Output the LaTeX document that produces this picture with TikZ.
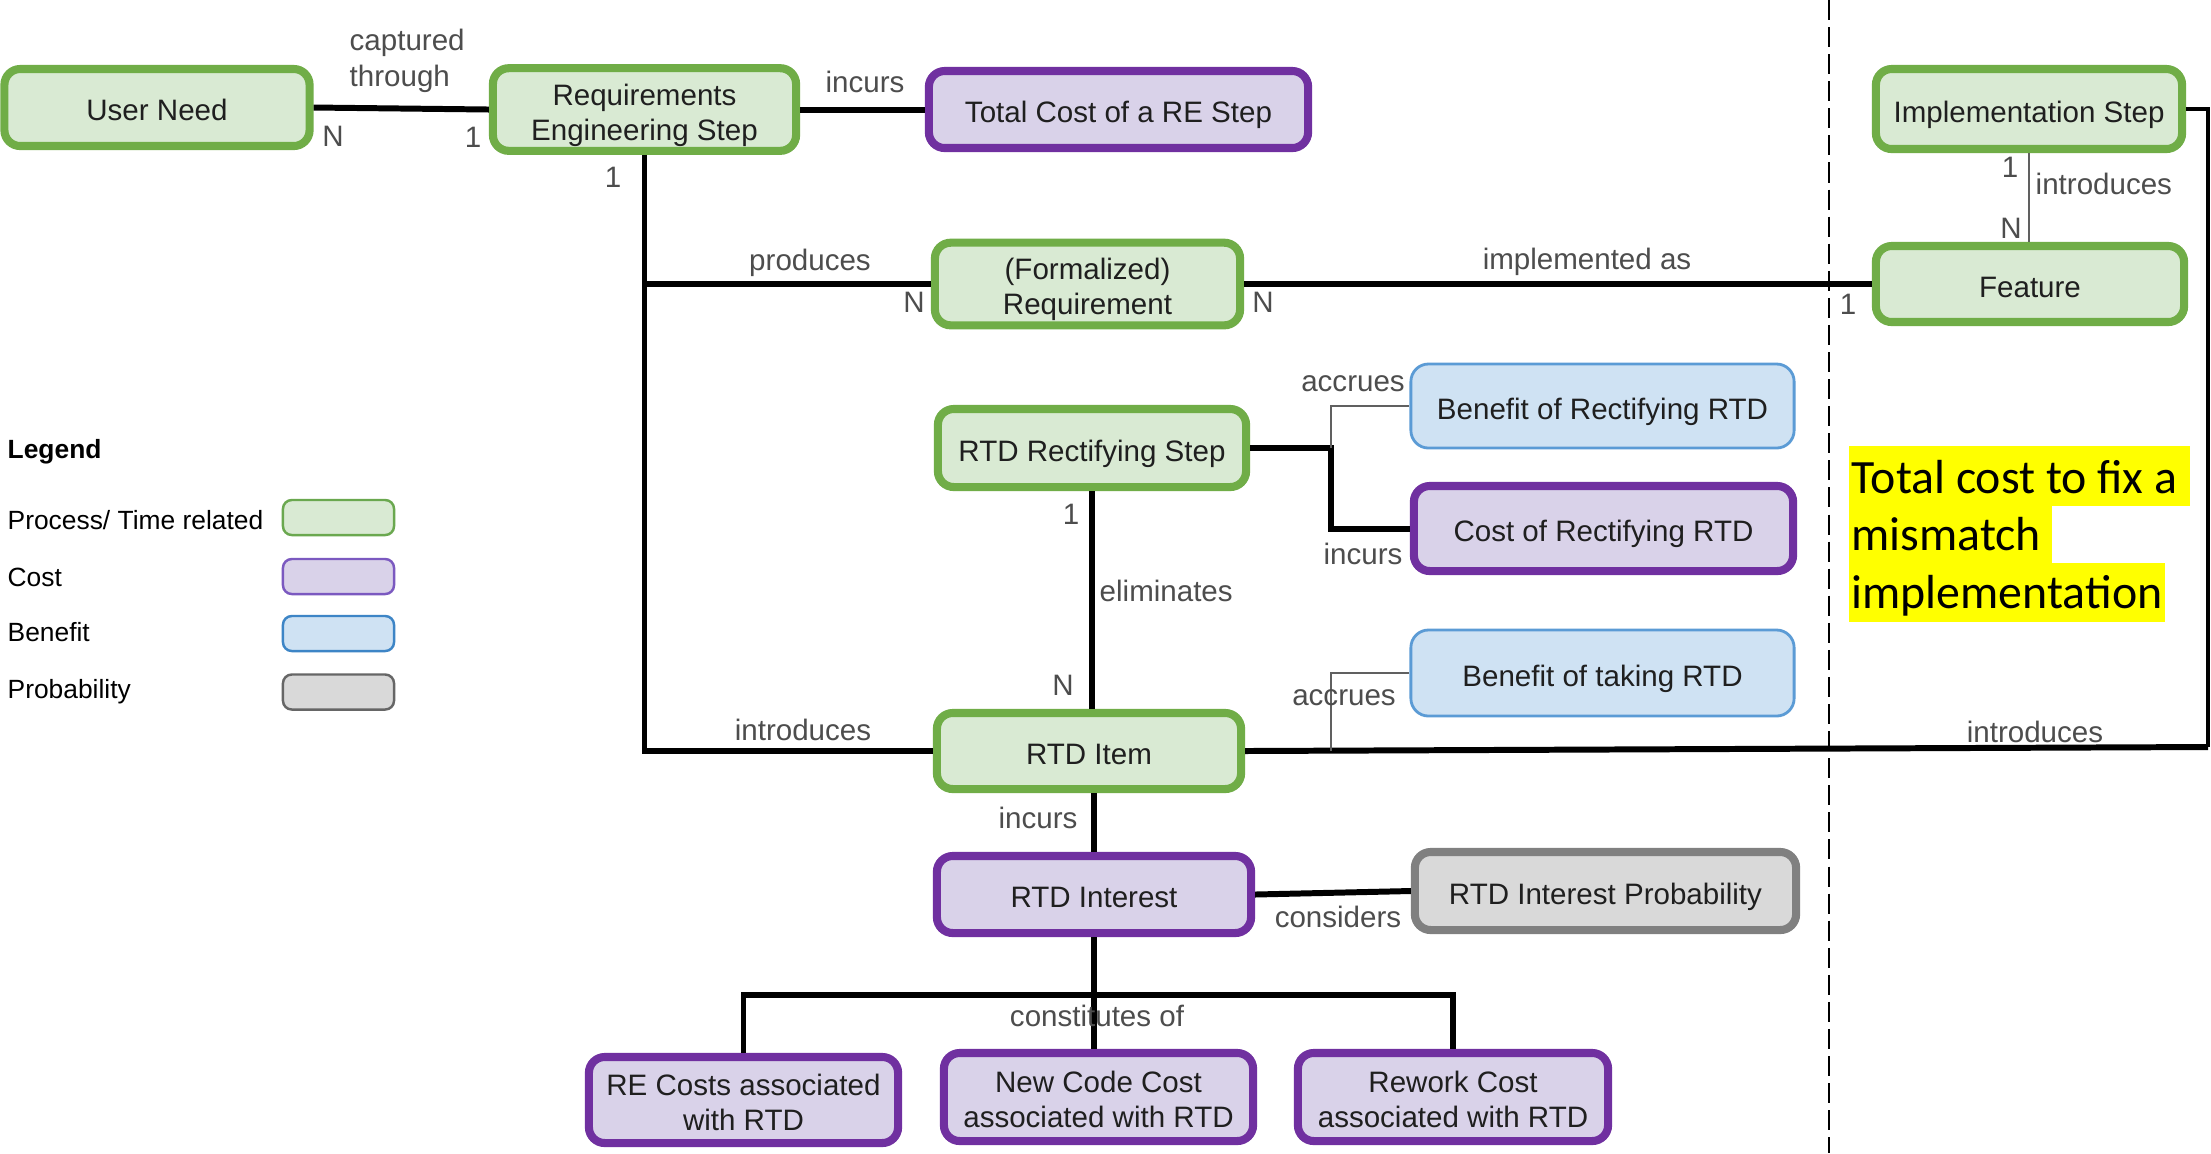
\documentclass[tikz,border=0pt]{standalone}
\usepackage{fontspec}
\setmainfont{Liberation Sans}
\newfontfamily\hilitefont{Carlito}
\usetikzlibrary{calc}

\definecolor{grnB}{HTML}{70AD47}
\definecolor{grnF}{HTML}{D9EAD3}
\definecolor{purB}{HTML}{7030A0}
\definecolor{purF}{HTML}{D9D2E9}
\definecolor{bluB}{HTML}{5B9BD5}
\definecolor{bluF}{HTML}{CFE2F3}
\definecolor{gryB}{HTML}{808080}
\definecolor{gryF}{HTML}{D9D9D9}
\definecolor{lgGrn}{HTML}{6AA84F}
\definecolor{lgPur}{HTML}{7B59C0}
\definecolor{lgBlu}{HTML}{3D85C6}
\definecolor{lgGry}{HTML}{666666}
\definecolor{txtC}{HTML}{1F1F1F}
\definecolor{lblC}{HTML}{4D4D4D}
\definecolor{hiYel}{HTML}{FFFF00}

\newcommand\bxfont{\fontsize{8.4}{10}\selectfont}
\newcommand\lbfont{\fontsize{8.4}{10}\selectfont}
\newcommand\lgfont{\fontsize{7.5}{9}\selectfont}
% box captions: strut-based rows, first row raised a little so the caption sits slightly low
\newcommand\bt[1]{\begin{tabular}{@{}c@{}}\rule{0pt}{10.5pt}#1\end{tabular}}

\tikzset{
  box/.style={rectangle, rounded corners=4.5pt, line width=2.3pt, inner sep=0pt,
    font=\bxfont, text=txtC},
  proc/.style={box, draw=grnB, fill=grnF},
  cost/.style={box, draw=purB, fill=purF},
  bene/.style={box, draw=bluB, fill=bluF, line width=0.8pt, rounded corners=5pt},
  prob/.style={box, draw=gryB, fill=gryF},
  conn/.style={draw=black, line width=1.7pt},
  midline/.style={draw=black, line width=0.9pt},
  thinline/.style={draw=gray!75!black, line width=0.5pt},
  lbl/.style={font=\lbfont, text=lblC, inner sep=0pt},
  lgtxt/.style={font=\lgfont, text=black, inner sep=0pt, anchor=west},
  swatch/.style={rectangle, rounded corners=2.5pt, line width=0.7pt, inner sep=0pt,
    minimum width=1.11cm, minimum height=0.35cm},
  hltxt/.style={font=\hilitefont\fontsize{13.6}{16}\selectfont, inner sep=0pt, anchor=base west},
}

\begin{document}
\begin{tikzpicture}[x=0.01cm, y=-0.01cm]
\useasboundingbox[fill=white] (0,0) rectangle (2211,1153);

% phase separator
\draw[black, line width=0.6pt, dash pattern=on 5.7pt off 2pt] (1829,0) -- (1829,1153);

% entities
\node[proc, minimum width=3.05cm, minimum height=0.77cm] (usr) at (157,107.5) {\bt{User Need}};
\node[proc, minimum width=3.03cm, minimum height=0.77cm] (res) at (644.5,109.5) {\bt{Requirements\\Engineering Step}};
\node[cost, minimum width=3.79cm, minimum height=0.77cm] (tcs) at (1118.5,109.5) {\bt{Total Cost of a RE Step}};
\node[proc, minimum width=3.06cm, minimum height=0.80cm] (imp) at (2029,109) {\bt{Implementation Step}};
\node[proc, minimum width=3.05cm, minimum height=0.76cm] (req) at (1087.5,284) {\bt{(Formalized)\\Requirement}};
\node[proc, minimum width=3.08cm, minimum height=0.76cm] (fea) at (2030,284) {\bt{Feature}};
\node[proc, minimum width=3.08cm, minimum height=0.78cm] (rrs) at (1092,448) {\bt{RTD Rectifying Step}};
\node[bene, minimum width=3.83cm, minimum height=0.84cm] (bor) at (1602.5,406) {\bt{Benefit of Rectifying RTD}};
\node[cost, minimum width=3.79cm, minimum height=0.85cm] (cor) at (1603.5,528.5) {\bt{Cost of Rectifying RTD}};
\node[bene, minimum width=3.83cm, minimum height=0.86cm] (bot) at (1602.5,673) {\bt{Benefit of taking RTD}};
\node[proc, minimum width=3.04cm, minimum height=0.76cm] (itm) at (1089,751) {\bt{RTD Item}};
\node[cost, minimum width=3.14cm, minimum height=0.77cm] (int) at (1094,894.5) {\bt{RTD Interest}};
\node[prob, minimum width=3.81cm, minimum height=0.78cm] (prb) at (1605.5,891) {\bt{RTD Interest Probability}};
\node[cost, minimum width=3.09cm, minimum height=0.86cm] (rec) at (743.5,1100) {\bt{RE Costs associated\\with RTD}};
\node[cost, minimum width=3.09cm, minimum height=0.88cm] (ncc) at (1098.5,1097) {\bt{New Code Cost\\associated with RTD}};
\node[cost, minimum width=3.10cm, minimum height=0.88cm] (rwc) at (1453,1097) {\bt{Rework Cost\\associated with RTD}};

% junction points
\coordinate (rturn) at (2208,109);
\coordinate (rdown) at (2208,747);
\coordinate (rfork) at (1331,448);
\coordinate (bfork) at (1331,750.5);
\coordinate (bus) at (1093,995);

% connectors
\draw[conn] (usr.east) -- (res.west);
\draw[conn] (res.east) -- (tcs.west);
\draw[conn] (res.south) |- (itm.west);
\draw[conn] (res.south |- req.west) -- (req.west);
\draw[conn] (req.east) -- (fea.west);
\draw[thinline] (imp.south) -- (imp.south |- fea.north);
\draw[midline] (imp.east) -- (rturn) -- (rdown);
\draw[conn] (rdown) -- (itm.east);
\draw[conn, line join=miter] (rrs.east) -- (rfork) |- (cor.west);
\draw[thinline] (rfork) |- (bor.west);
\draw[conn] (rrs.south) -- (rrs.south |- itm.north);
\draw[thinline] (bfork) |- (bot.west);
\draw[conn] (int.north |- itm.south) -- (int.north);
\draw[conn] (int.east) -- (prb.west);
\draw[conn] (int.south) -- (int.south |- bus);
\draw[conn, line cap=rect] (rec.north |- bus) -- (rwc.north |- bus);
\draw[conn] (rec.north |- bus) -- (rec.north);
\draw[conn] (int.south |- bus) -- (int.south |- ncc.north);
\draw[conn] (rwc.north |- bus) -- (rwc.north);

% relation labels and cardinalities
\node[lbl, anchor=west] (l1a) at (349,42.5) {captured};
\node[lbl, anchor=west] (l1b) at (349,78.5) {through};
\node[lbl] (c1) at (333,136) {N};
\node[lbl] (c2) at (473,137) {1};
\node[lbl] (l2) at (865,82) {incurs};
\node[lbl] (c3) at (613,177) {1};
\node[lbl] (l3) at (810,262.5) {produces};
\node[lbl] (c4) at (914,302) {N};
\node[lbl] (l4) at (1587,262) {implemented as};
\node[lbl] (c5) at (1263,302) {N};
\node[lbl] (c6) at (1848,304) {1};
\node[lbl] (c7) at (2010,167) {1};
\node[lbl] (c8) at (2011,228) {N};
\node[lbl, anchor=west] (l5) at (2035,184) {introduces};
\node[lbl] (l6) at (1353,383.5) {accrues};
\node[lbl] (l7) at (1363,554) {incurs};
\node[lbl] (c9) at (1071,514) {1};
\node[lbl, anchor=west] (l8) at (1099,591) {eliminates};
\node[lbl] (c10) at (1063,685) {N};
\node[lbl] (l9) at (1344,698) {accrues};
\node[lbl] (l10) at (803,730) {introduces};
\node[lbl] (l11) at (2035,732) {introduces};
\node[lbl] (l12) at (1038,818) {incurs};
\node[lbl] (l13) at (1338,917) {considers};
\node[lbl] (l14) at (1097,1016) {constitutes of};

% legend
\node[lgtxt, font=\lgfont\bfseries] (lgh) at (7,452) {Legend};
\node[lgtxt] (lt1) at (7,520) {Process/ Time related};
\node[lgtxt] (lt2) at (7,577) {Cost};
\node[lgtxt] (lt3) at (7,632) {Benefit};
\node[lgtxt] (lt4) at (7,692) {Probability};
\node[swatch, draw=lgGrn, fill=grnF] (ls1) at (338.5,517.5) {};
\node[swatch, draw=lgPur, fill=purF] (ls2) at (338.5,576.5) {};
\node[swatch, draw=lgBlu, fill=bluF] (ls3) at (338.5,633.5) {};
\node[swatch, draw=lgGry, fill=gryF] (ls4) at (338.5,692) {};

% highlighted note
\fill[hiYel] (1849,446) rectangle (2190,506);
\fill[hiYel] (1849,506) rectangle (2052,563);
\fill[hiYel] (1849,563) rectangle (2165,622);
\node[hltxt] (h1) at (1851,493) {Total cost to fix a};
\node[hltxt] (h2) at (1851,550) {mismatch};
\node[hltxt] (h3) at (1851,608) {implementation};
\end{tikzpicture}
\end{document}
